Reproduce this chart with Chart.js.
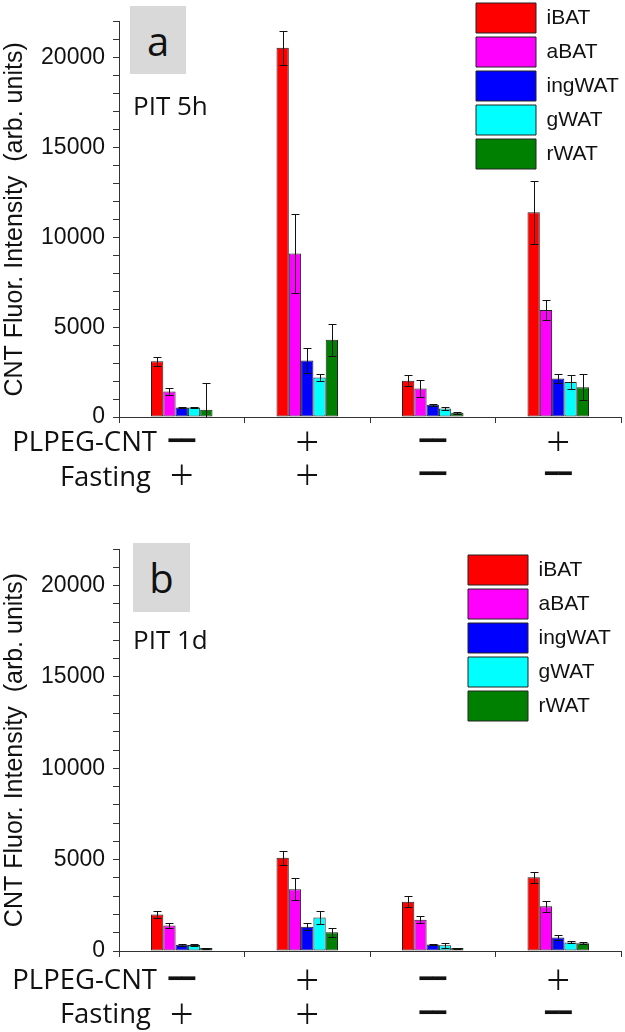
<!DOCTYPE html>
<html>
<head>
<meta charset="utf-8">
<script src="https://cdn.jsdelivr.net/npm/chart.js@4.4.1/dist/chart.umd.min.js"></script>
<style>
  body { margin: 0; background: #fff; }
  .panel { position: absolute; left: 0; width: 625px; height: 516px; }
  .panel canvas { position: absolute; left: 0; top: 0; }
  .tag {
    position: absolute; background: #d9d9d9; color: #111;
    font-family: "Open Sans", sans-serif; font-size: 40px;
    display: flex; align-items: center; justify-content: center;
  }
  .note { position: absolute; font-family: "Open Sans", sans-serif; font-size: 26px; line-height: 30px; color: #111; }
  .rowlab {
    position: absolute; width: 170px; text-align: right; color: #111;
    font-family: "Open Sans", sans-serif; font-size: 27.5px; line-height: 32px;
  }
</style>
</head>
<body>

<div class="panel" style="top:0">
  <canvas id="chartA" width="625" height="516"></canvas>
  <div class="tag" style="left:130px;top:6px;width:56px;height:68px;">a</div>
  <div class="note" style="left:133px;top:90px;">PIT 5h</div>
  <div class="rowlab" style="left:-13px;top:425px;">PLPEG-CNT</div>
  <div class="rowlab" style="left:-19px;top:460px;">Fasting</div>
</div>

<div class="panel" style="top:516px">
  <canvas id="chartB" width="625" height="516"></canvas>
  <div class="tag" style="left:133px;top:27px;width:57px;height:69px;">b</div>
  <div class="note" style="left:133px;top:108px;">PIT 1d</div>
  <div class="rowlab" style="left:-13px;top:447px;">PLPEG-CNT</div>
  <div class="rowlab" style="left:-19px;top:481px;">Fasting</div>
</div>

<script>
// ---- data ----
const tissues = ["iBAT", "aBAT", "ingWAT", "gWAT", "rWAT"];
const tissueColors = ["#ff0000", "#ff00ff", "#0000ff", "#00ffff", "#008000"];

// condition marks under each group (row 1: PLPEG-CNT, row 2: Fasting)
const PLUS = "\uFF0B", MINUS = "\u2501\u2501";
const plpegRow = [MINUS, PLUS, MINUS, PLUS];
const fastingRow = [PLUS, PLUS, MINUS, MINUS];

const yTickLabels = [0, 5000, 10000, 15000, 20000];

// PIT 5h
const iBAT5h = [3100, 20550, 2020, 11400];
const aBAT5h = [1420, 9100, 1580, 5950];
const ingWAT5h = [530, 3150, 680, 2150];
const gWAT5h = [530, 2200, 480, 1950];
const rWAT5h = [400, 4300, 230, 1650];
const iBAT5hErr = [250, 950, 310, 1750];
const aBAT5hErr = [190, 2200, 470, 570];
const ingWAT5hErr = [50, 700, 60, 230];
const gWAT5hErr = [50, 220, 90, 390];
const rWAT5hErr = [1470, 900, 40, 730];

// PIT 1d
const iBAT1d = [2000, 5100, 2700, 4030];
const aBAT1d = [1400, 3380, 1710, 2450];
const ingWAT1d = [345, 1330, 360, 745];
const gWAT1d = [330, 1840, 310, 470];
const rWAT1d = [160, 1020, 160, 420];
const iBAT1dErr = [200, 380, 300, 290];
const aBAT1dErr = [130, 600, 180, 310];
const ingWAT1dErr = [50, 180, 50, 150];
const gWAT1dErr = [50, 360, 140, 50];
const rWAT1dErr = [30, 250, 30, 50];

const plusFont = { family: "Noto Sans CJK SC", size: 27, lineHeight: "32px" };
const dashFont = { family: "DejaVu Sans", weight: "bold", size: 22, lineHeight: "32px" };
const markFont = row => c => row[c.index] === PLUS ? plusFont : dashFont;

// ---- error bars drawn from the y scale ----
const errorBars = {
    id: "errorBars",
    afterDatasetsDraw(chart) {
        const ctx = chart.ctx;
        const y = chart.scales.y;
        ctx.save();
        ctx.strokeStyle = "#111";
        ctx.lineWidth = 1;
        chart.data.datasets.forEach((ds, i) => {
            chart.getDatasetMeta(i).data.forEach((bar, j) => {
                const v = ds.data[j], e = ds.errors[j];
                const x = Math.round(bar.x) + 0.5;
                const top = Math.round(y.getPixelForValue(v + e)) + 0.5;
                const low = v - e;
                const bot = Math.round(y.getPixelForValue(Math.max(low, 0))) + 0.5;
                ctx.beginPath();
                ctx.moveTo(x, top); ctx.lineTo(x, bot);
                ctx.moveTo(x - 4, top); ctx.lineTo(x + 4, top);
                if (low > 0) { ctx.moveTo(x - 4, bot); ctx.lineTo(x + 4, bot); }
                ctx.stroke();
            });
        });
        ctx.restore();
    }
};

// move the legend into the top-right of the plot
const legendSpot = {
    id: "legendSpot",
    afterLayout(chart) {
        const spot = chart.options.plugins.legendSpot;
        const lg = chart.legend;
        lg.left = spot.left;
        lg.top = spot.top;
        lg.right = 625;
        lg.bottom = spot.top + 200;
    }
};

function makeChart(id, series, errs, opts) {
    return new Chart(document.getElementById(id), {
        type: "bar",
        data: {
            labels: plpegRow,
            datasets: tissues.map((name, k) => ({
                label: name,
                data: series[k],
                errors: errs[k],
                backgroundColor: tissueColors[k],
                borderColor: "#222",
                borderWidth: 1,
                borderSkipped: false,
                categoryPercentage: 0.49,
                barPercentage: 1.0
            }))
        },
        plugins: [errorBars, legendSpot],
        options: {
            responsive: false,
            animation: false,
            layout: { padding: { top: opts.top, right: 4, left: 0, bottom: 0 } },
            plugins: {
                legendSpot: opts.legend,
                tooltip: { enabled: false },
                legend: {
                    position: "chartArea",
                    align: "start",
                    labels: {
                        boxWidth: 60,
                        boxHeight: 30,
                        padding: 4,
                        color: "#111",
                        font: { family: "Liberation Sans", size: 21 }
                    }
                }
            },
            scales: {
                x: {
                    afterFit(scale) { scale.height = opts.row1H; },
                    border: { color: "#333", width: 1 },
                    grid: { drawOnChartArea: false, tickLength: 6, color: "#333" },
                    ticks: {
                        padding: opts.tickPad,
                        color: "#111",
                        maxRotation: 0,
                        autoSkip: false,
                        font: markFont(plpegRow)
                    }
                },
                x2: {
                    type: "category",
                    labels: fastingRow,
                    position: "bottom",
                    offset: true,
                    weight: 1,
                    afterFit(scale) { scale.height = opts.row2H; },
                    border: { display: false },
                    grid: { display: false },
                    ticks: {
                        padding: 0,
                        color: "#111",
                        maxRotation: 0,
                        autoSkip: false,
                        font: markFont(fastingRow)
                    }
                },
                y: {
                    min: 0,
                    max: 22000,
                    afterFit(scale) { scale.width = 119; },
                    border: { color: "#333", width: 1 },
                    grid: { drawOnChartArea: false, tickLength: 6, color: "#333" },
                    ticks: {
                        stepSize: 1000,
                        autoSkip: false,
                        padding: 8,
                        color: "#111",
                        font: { family: "Liberation Sans", size: 23 },
                        callback: v => yTickLabels.includes(v) ? String(v) : ""
                    },
                    title: {
                        display: true,
                        text: "CNT Fluor. Intensity  (arb. units)",
                        color: "#111",
                        padding: 0,
                        font: { family: "Liberation Sans", size: 25 }
                    }
                }
            }
        }
    });
}

makeChart("chartA",
    [iBAT5h, aBAT5h, ingWAT5h, gWAT5h, rWAT5h],
    [iBAT5hErr, aBAT5hErr, ingWAT5hErr, gWAT5hErr, rWAT5hErr],
    { top: 14, row1H: 34, row2H: 65, tickPad: 3, legend: { left: 472, top: -1 } });

makeChart("chartB",
    [iBAT1d, aBAT1d, ingWAT1d, gWAT1d, rWAT1d],
    [iBAT1dErr, aBAT1dErr, ingWAT1dErr, gWAT1dErr, rWAT1dErr],
    { top: 33, row1H: 39, row2H: 42, tickPad: 7, legend: { left: 464, top: 35 } });
</script>
</body>
</html>
